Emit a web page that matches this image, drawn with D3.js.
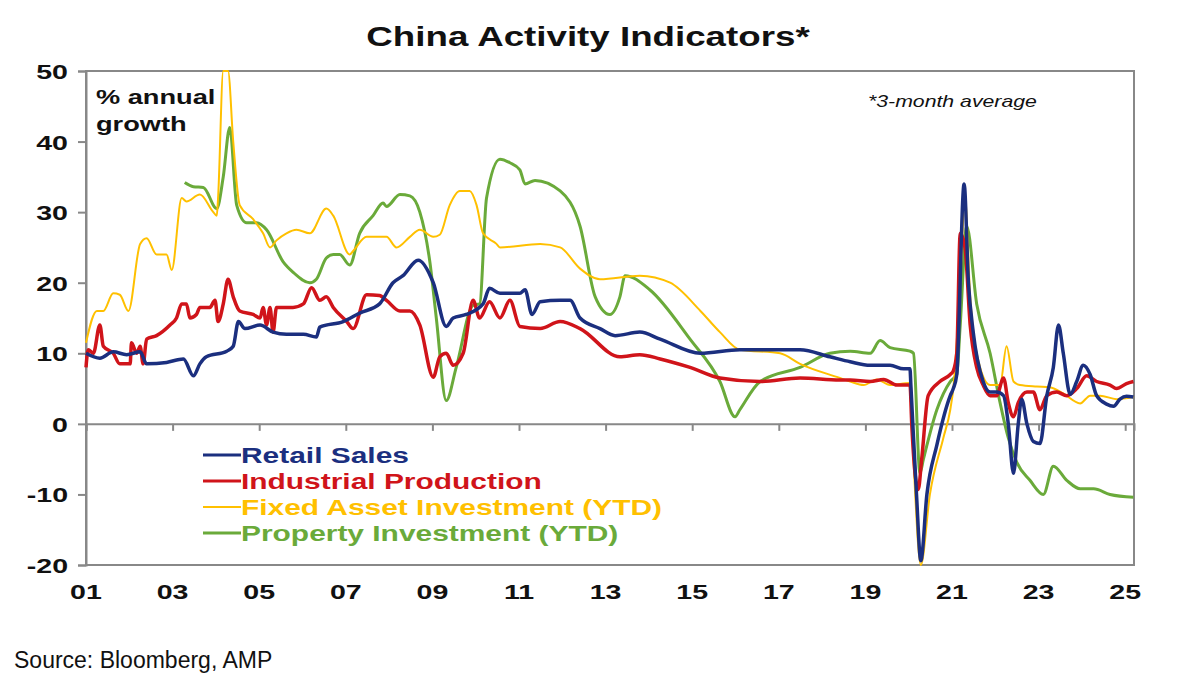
<!DOCTYPE html>
<html><head><meta charset="utf-8">
<script src="https://cdn.jsdelivr.net/npm/d3@7"></script>
<style>body{margin:0;background:#fff}text{font-family:Arial,"Liberation Sans",sans-serif}</style>
</head><body><svg id="c" width="1183" height="693"></svg>
<script>
// [year, % annual growth]
const retail = [[2001.0,10],[2001.32,9.3],[2001.63,10.2],[2001.94,9.8],[2002.25,10.2],[2002.4,8.5],[2002.86,8.7],[2003.25,9.2],[2003.48,6.8],[2003.63,8.5],[2003.78,9.5],[2004.25,10.3],[2004.4,11],[2004.52,14.5],[2004.67,13.5],[2005.02,14],[2005.32,13],[2005.63,12.7],[2006.02,12.7],[2006.32,12.3],[2006.4,13.7],[2006.94,14.5],[2007.32,15.7],[2007.78,17],[2008.09,20],[2008.32,21],[2008.67,23.2],[2009.02,20],[2009.32,13.8],[2009.48,15],[2009.78,15.5],[2010.17,17],[2010.32,19.2],[2010.56,18.5],[2011.02,18.5],[2011.14,19],[2011.3,15.5],[2011.49,17.3],[2011.95,17.5],[2012.18,17.5],[2012.41,15],[2012.87,13.5],[2013.22,12.5],[2013.79,13],[2014.26,12],[2015.19,10],[2016.1,10.5],[2017.03,10.5],[2017.49,10.5],[2018.18,9.5],[2018.65,8.8],[2019.11,8.3],[2019.57,8.3],[2019.88,7.8],[2020.03,7.8],[2020.05,5.5],[2020.18,-10],[2020.28,-19.4],[2020.42,-10],[2020.65,-3],[2020.96,4],[2021.03,5],[2021.11,7],[2021.28,34],[2021.38,20],[2021.49,13],[2021.72,6],[2021.88,4.5],[2022.03,4.5],[2022.19,4],[2022.3,0],[2022.42,-7],[2022.53,0],[2022.61,3.5],[2022.73,0],[2022.88,-2.5],[2023.03,-2.8],[2023.19,4],[2023.34,8],[2023.46,14],[2023.57,10],[2023.73,4.2],[2023.88,6],[2024.03,8.3],[2024.19,7],[2024.34,4],[2024.57,2.8],[2024.73,2.5],[2024.88,3.5],[2025.03,3.9],[2025.19,3.8]];
const industrial = [[2001.0,8],[2001.05,10.5],[2001.17,10],[2001.32,14],[2001.4,11],[2001.63,10],[2001.78,8.5],[2002.02,8.5],[2002.05,11.5],[2002.17,10],[2002.25,11],[2002.32,8.5],[2002.4,12],[2002.63,12.5],[2002.94,14],[2003.09,15],[2003.21,17],[2003.32,17],[2003.4,15],[2003.55,15.5],[2003.63,16.5],[2003.86,16.5],[2003.98,17.5],[2004.05,14.5],[2004.17,17],[2004.28,20.5],[2004.4,18],[2004.55,16],[2004.86,15.5],[2005.02,15],[2005.09,16.5],[2005.17,14],[2005.25,16.5],[2005.32,13],[2005.4,16.5],[2005.78,16.5],[2006.02,17],[2006.21,19.3],[2006.4,17.5],[2006.55,18],[2006.71,16.5],[2007.02,14.5],[2007.17,13.5],[2007.48,18.3],[2007.78,18.2],[2007.94,17.5],[2008.25,16],[2008.48,16],[2008.71,14],[2009.02,6.6],[2009.17,9.5],[2009.32,10],[2009.48,8.3],[2009.71,10],[2009.94,17.5],[2010.09,15],[2010.32,17.3],[2010.56,15],[2010.79,17.5],[2011.02,13.8],[2011.49,13.5],[2011.95,14.5],[2012.41,13.5],[2013.33,9.5],[2013.79,9.8],[2014.26,9.2],[2014.95,8],[2015.64,6.5],[2016.57,6],[2017.49,6.5],[2018.41,6.2],[2018.65,6.2],[2019.11,6],[2019.42,6.3],[2019.73,5.5],[2020.03,5.5],[2020.07,0],[2020.22,-9.3],[2020.3,-5],[2020.45,4],[2020.72,6],[2020.96,7],[2021.03,7.5],[2021.11,10],[2021.19,27],[2021.3,25],[2021.42,14],[2021.57,8],[2021.72,5.5],[2021.88,4],[2022.03,4],[2022.19,6.5],[2022.3,3],[2022.42,1],[2022.53,3],[2022.73,4.5],[2022.88,4.5],[2023.03,2],[2023.19,4],[2023.42,4.5],[2023.65,4],[2023.88,5],[2024.11,6.8],[2024.34,6],[2024.65,5.5],[2024.8,5],[2025.03,5.7],[2025.19,6]];
const fixedAsset = [[2001.0,11.5],[2001.25,16],[2001.4,16],[2001.63,18.5],[2001.78,18.3],[2001.98,16],[2002.25,25.5],[2002.4,26.3],[2002.63,24],[2002.86,24],[2002.98,21.8],[2003.21,32],[2003.32,31.5],[2003.63,32.5],[2003.94,30],[2004.02,29.5],[2004.05,32],[2004.17,50],[2004.28,50],[2004.4,40],[2004.55,31],[2004.86,29],[2005.09,27],[2005.25,25],[2005.4,26],[2005.63,27],[2005.86,27.5],[2006.17,27],[2006.55,30.5],[2006.71,29.5],[2007.09,24],[2007.17,24.5],[2007.48,26.5],[2007.94,26.5],[2008.17,25],[2008.48,26.5],[2008.71,27.5],[2009.02,26.5],[2009.17,26.8],[2009.4,31],[2009.63,33],[2009.86,33],[2010.02,31],[2010.17,27],[2010.48,25.5],[2010.56,25],[2011.49,25.5],[2011.95,25],[2012.41,22],[2012.87,20.5],[2013.79,21],[2014.49,20],[2015.19,16],[2015.64,13],[2016.1,10.5],[2017.03,10],[2017.49,8.5],[2018.41,6.5],[2018.65,6],[2018.96,5.5],[2019.26,6.3],[2019.57,5.5],[2020.03,5.8],[2020.11,-5],[2020.28,-20],[2020.49,-10],[2020.8,-2],[2020.96,2],[2021.03,5],[2021.19,20],[2021.3,32],[2021.42,18],[2021.57,10],[2021.88,5.5],[2022.11,5.5],[2022.26,11],[2022.42,6],[2022.57,5.5],[2022.96,5.3],[2023.26,5.2],[2023.57,4.3],[2023.96,2.9],[2024.19,4],[2024.42,4],[2024.8,3.5],[2025.19,3.8]];
const property = [[2003.28,34.2],[2003.48,33.6],[2003.71,33.5],[2004.02,30.5],[2004.17,35],[2004.32,42],[2004.48,31],[2004.71,28.5],[2004.94,28.5],[2005.17,27.5],[2005.55,23],[2005.78,21.5],[2006.17,20],[2006.32,20.5],[2006.55,23.5],[2006.71,24],[2006.86,24],[2007.09,22.5],[2007.32,27],[2007.63,29.5],[2007.86,31.3],[2007.94,30.8],[2008.25,32.5],[2008.48,32.3],[2008.71,30],[2008.94,23],[2009.09,15],[2009.32,3.3],[2009.55,8],[2009.94,16.8],[2010.09,17],[2010.25,32],[2010.56,37.5],[2010.79,37],[2011.02,36],[2011.14,34],[2011.37,34.5],[2011.95,33],[2012.41,28],[2012.76,18],[2013.1,15.5],[2013.33,18],[2013.45,21],[2014.02,19],[2014.95,12],[2015.64,6],[2015.99,1],[2016.1,2],[2016.57,6],[2017.49,8],[2018.18,10],[2018.65,10.3],[2019.11,10],[2019.34,11.8],[2019.57,10.8],[2020.03,10.3],[2020.11,10],[2020.26,-7],[2020.34,-5],[2020.65,2],[2020.96,6],[2021.11,7],[2021.19,14],[2021.34,28],[2021.57,17],[2021.88,10],[2022.11,3],[2022.3,-2],[2022.5,-5.5],[2022.8,-8],[2023.11,-10],[2023.34,-6],[2023.65,-8],[2023.96,-9.2],[2024.27,-9.2],[2024.65,-10],[2025.19,-10.4]];
const yTicks = [-20,-10,0,10,20,30,40,50];
const xTickYears = [2001,2003,2005,2007,2009,2011,2013,2015,2017,2019,2021,2023,2025];
const seriesNames = ["Retail Sales","Industrial Production","Fixed Asset Investment (YTD)","Property Investment (YTD)"];
const seriesColors = ["#1b2f7f","#d0141a","#ffc000","#6aaa3a"];
const seriesWidths = [3.5,3.5,2,3];

const svg = d3.select("#c");
const L = 86, R = 1134, T = 71, B = 565;
const x = d3.scaleLinear().domain([2001, 2001 + (R - L) / 43.3]).range([L, R]);
const y = d3.scaleLinear().domain([-20, 50]).range([B, T]);

// reference type is drawn wide, so stretch text horizontally
const SX = 1.36;
function label(px, py, str, size, opts = {}) {
  const t = svg.append("text")
    .attr("transform", `translate(${px},${py}) scale(${opts.sx || SX},1)`)
    .attr("font-size", size).attr("font-weight", opts.weight || "bold")
    .attr("fill", opts.fill || "#111").attr("text-anchor", opts.anchor || "start")
    .text(str);
  if (opts.italic) t.attr("font-style", "italic");
  return t;
}

label(588, 46, "China Activity Indicators*", 27, {anchor: "middle"});

svg.append("rect").attr("x", L).attr("y", T).attr("width", R - L).attr("height", B - T)
  .attr("fill", "none").attr("stroke", "#888").attr("stroke-width", 2);

svg.append("g").attr("transform", `translate(${L},0)`)
  .call(d3.axisLeft(y).tickValues(yTicks).tickSize(8).tickFormat(""))
  .call(g => g.select(".domain").attr("stroke", "#888").attr("stroke-width", 2))
  .call(g => g.selectAll("line").attr("stroke", "#888").attr("stroke-width", 2));
yTicks.forEach(v => label(68, y(v) + 8, String(v), 21, {anchor: "end"}));

svg.append("g").attr("transform", `translate(0,${y(0)})`)
  .call(d3.axisBottom(x).tickValues(xTickYears).tickSize(7).tickFormat(""))
  .call(g => g.select(".domain").attr("stroke", "#888").attr("stroke-width", 2))
  .call(g => g.selectAll("line").attr("stroke", "#888").attr("stroke-width", 2));
xTickYears.forEach(v => label(x(v), 599, String(v % 100).padStart(2, "0"), 21, {anchor: "middle"}));

const line = d3.line().x(d => x(d[0])).y(d => y(d[1])).curve(d3.curveMonotoneX);
[property, fixedAsset, industrial, retail].forEach((s, i) => {
  const k = 3 - i;
  svg.append("path").datum(s).attr("d", line).attr("fill", "none")
    .attr("stroke", seriesColors[k]).attr("stroke-width", seriesWidths[k]).attr("stroke-linejoin", "round");
});

label(96, 104, "% annual", 20);
label(96, 131, "growth", 20);
label(868, 107, "*3-month average", 17, {weight: "normal", italic: true, sx: 1.25});

seriesNames.forEach((d, i) => {
  const ly = 455 + i * 26;
  svg.append("line").attr("x1", 203).attr("x2", 241).attr("y1", ly).attr("y2", ly)
    .attr("stroke", seriesColors[i]).attr("stroke-width", i === 2 ? 2 : 3);
  label(241, ly + 8, d, 22, {fill: seriesColors[i]});
});

label(14, 668, "Source: Bloomberg, AMP", 23, {weight: "normal", sx: 1.0});
</script></body></html>
